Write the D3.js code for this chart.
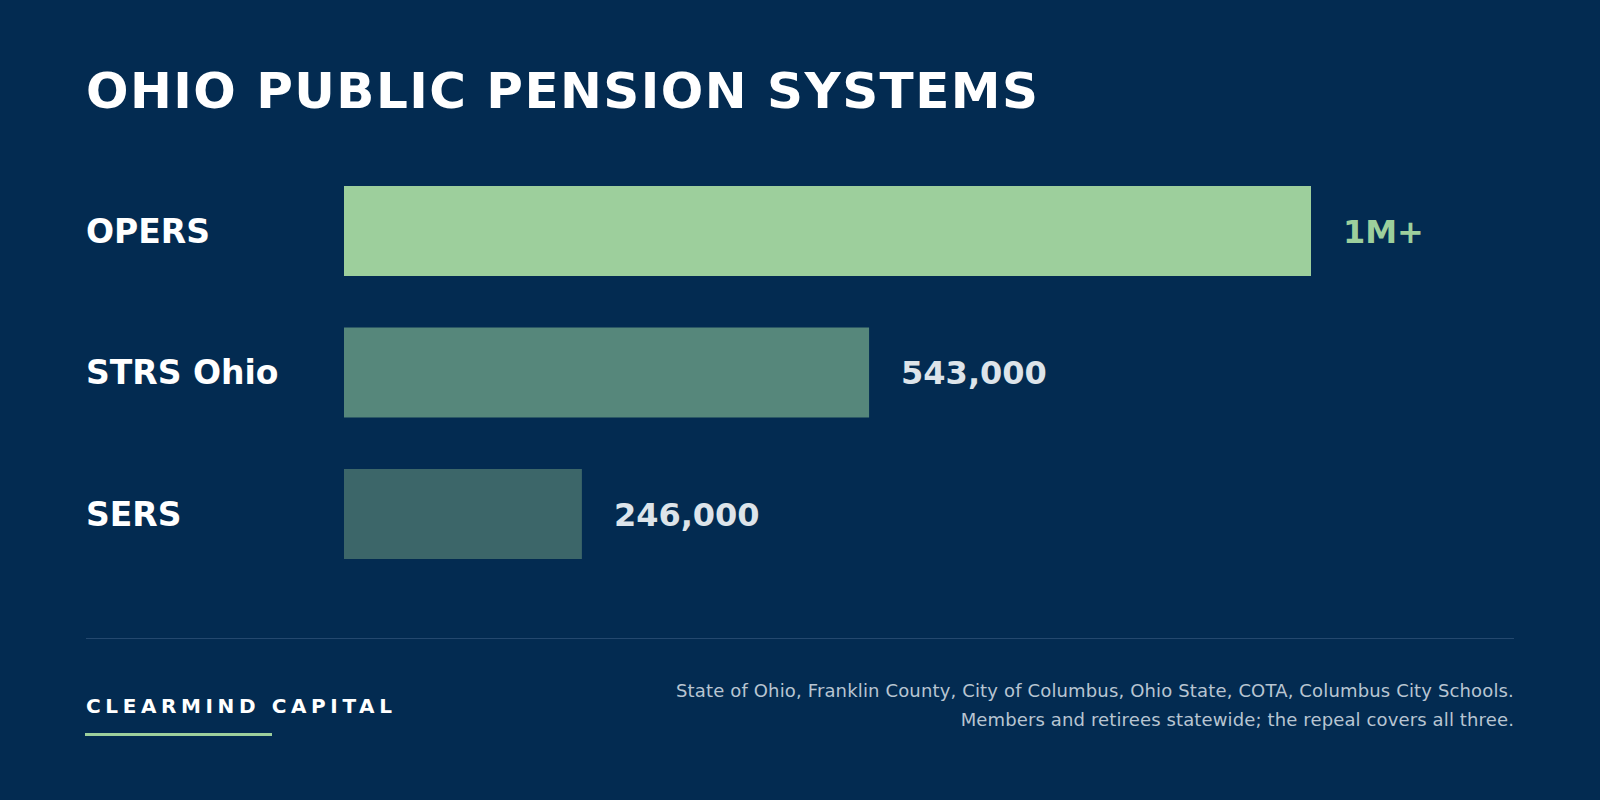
<!DOCTYPE html>
<html><head><meta charset="utf-8">
<script src="https://cdn.jsdelivr.net/npm/d3@7"></script>
<style>
html,body{margin:0;padding:0;background:#032b51;}
svg{display:block;}
text{font-family:"DejaVu Sans",sans-serif;}
</style></head>
<body>
<svg id="chart" width="1600" height="800"></svg>
<script>
const categories = ["OPERS", "STRS Ohio", "SERS"];
const values = [1000000, 543000, 246000];
const valueLabels = ["1M+", "543,000", "246,000"];
const barColors = ["#9dcf9c", "#56877b", "#3c6669"];
const labelColors = ["#9dcf9c", "#dde4ea", "#dde4ea"];
const title = "OHIO PUBLIC PENSION SYSTEMS";
const brand = "CLEARMIND CAPITAL";
const notes = ["State of Ohio, Franklin County, City of Columbus, Ohio State, COTA, Columbus City Schools.",
               "Members and retirees statewide; the repeal covers all three."];

const svg = d3.select("#chart");
svg.append("rect").attr("width",1600).attr("height",800).attr("fill","#032b51");

function fitWidth(sel, target){
  const n = sel.text().length;
  const w = sel.node().getComputedTextLength();
  sel.attr("letter-spacing", ((target - w)/(n-1)).toFixed(2));
}

const t = svg.append("text").attr("x",86).attr("y",108)
  .attr("fill","#ffffff").attr("font-weight","bold").attr("font-size",50).text(title);
fitWidth(t, 952);

const x = d3.scaleLinear().domain([0, 1000000]).range([344, 1311]);
const y = d3.scaleBand().domain(categories).range([186, 559]).paddingInner(0.364).paddingOuter(0);

const g = svg.append("g");
g.selectAll("rect.bar").data(categories).join("rect").attr("class","bar")
  .attr("x", x(0)).attr("y", d=>y(d)).attr("height", y.bandwidth())
  .attr("width", (d,i)=>x(values[i])-x(0)).attr("fill",(d,i)=>barColors[i]);

g.selectAll("text.cat").data(categories).join("text").attr("class","cat")
  .attr("x",86).attr("y", d=>y(d)+y.bandwidth()/2).attr("dy","0.36em")
  .attr("fill","#ffffff").attr("font-weight","bold").attr("font-size",33).text(d=>d);

g.selectAll("text.val").data(categories).join("text").attr("class","val")
  .attr("x",(d,i)=>x(values[i])+32).attr("y", d=>y(d)+y.bandwidth()/2).attr("dy","0.36em")
  .attr("fill",(d,i)=>labelColors[i]).attr("font-weight","bold").attr("font-size",32)
  .text((d,i)=>valueLabels[i]);

svg.append("line").attr("x1",86).attr("x2",1514).attr("y1",638.5).attr("y2",638.5)
  .attr("stroke","#24486e").attr("stroke-width",1);

const b = svg.append("text").attr("x",86).attr("y",713).attr("fill","#ffffff")
  .attr("font-weight","bold").attr("font-size",20).text(brand);
fitWidth(b, 306);
svg.append("rect").attr("x",85).attr("y",733).attr("width",187).attr("height",3).attr("fill","#9dcf9c");

const noteWidths = [838, 553];
svg.selectAll("text.note").data(notes).join("text").attr("class","note")
  .attr("x",1514).attr("y",(d,i)=>697+i*29).attr("text-anchor","end")
  .attr("fill","#b8c5d2").attr("font-size",18).text(d=>d)
  .each(function(d,i){ fitWidth(d3.select(this), noteWidths[i]); });
</script>
</body></html>
